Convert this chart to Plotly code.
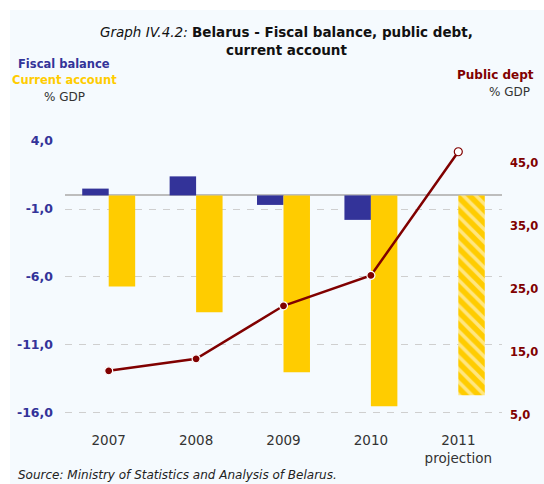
import plotly.graph_objects as go

# --- data (% of GDP) ---
years = ["2007", "2008", "2009", "2010", "2011<br>projection"]
fiscal_balance = [0.5, 1.4, -0.7, -1.8, None]
current_account = [-6.7, -8.6, -13.0, -15.5, -14.7]
public_debt = [12.0, 13.9, 22.3, 27.1, 46.7]

left_ticks = [-16, -11, -6, -1, 4]
right_ticks = [5, 15, 25, 35, 45]

NAVY = "#333399"
YELLOW = "#FFCC00"
MAROON = "#800000"
BG = "#F5FAFE"
FONT = "DejaVu Sans"

W, H = 544, 484
L, R, T, B = 65, 42, 141, 69
PW, PH = W - L - R, H - T - B


def px(x):
    return (x - L) / PW


def py(y):
    return (H - B - y) / PH


def fmt(v):
    return f"{v:.1f}".replace(".", ",")


fig = go.Figure()

fig.add_trace(go.Bar(
    x=years, y=fiscal_balance, name="Fiscal balance",
    marker=dict(color=NAVY, line=dict(width=0)),
))
fig.add_trace(go.Bar(
    x=years, y=current_account, name="Current account",
    marker=dict(
        color=YELLOW, line=dict(width=0),
        pattern=dict(shape=["", "", "", "", "\\"], fgcolor="white",
                     bgcolor=YELLOW, size=9, solidity=0.4),
    ),
))
fig.add_trace(go.Scatter(
    x=years, y=public_debt, name="Public debt", yaxis="y2",
    mode="lines+markers",
    line=dict(color=MAROON, width=2.5),
    marker=dict(size=8, color=[MAROON] * 4 + ["white"],
                line=dict(color=["white"] * 4 + [MAROON], width=1.2)),
))

fig.update_layout(
    width=W, height=H,
    margin=dict(l=L, r=R, t=T, b=B, pad=0, autoexpand=False),
    paper_bgcolor="white",
    plot_bgcolor="rgba(0,0,0,0)",
    showlegend=False,
    barmode="group", bargap=0.394, bargroupgap=0,
    font=dict(family=FONT, size=12, color="#333333"),
    xaxis=dict(
        type="category", showgrid=False, showline=False, zeroline=False,
        ticks="outside", ticklen=0, ticklabelstandoff=13, automargin=False,
        tickfont=dict(size=13.5, color="#333333"),
    ),
    yaxis=dict(
        range=[-16.15, 4.001], tickvals=left_ticks,
        ticktext=[fmt(v) for v in left_ticks],
        tickfont=dict(size=12.5, color=NAVY, weight="bold"),
        showgrid=True, gridcolor="#CFCFCF", gridwidth=1, griddash="7px,7px",
        zeroline=True, zerolinecolor="#BDBDBD", zerolinewidth=1.5,
        showline=False, ticks="", ticklabelstandoff=11, automargin=False,
    ),
    yaxis2=dict(
        overlaying="y", side="right", range=[5, 48.4],
        tickvals=right_ticks, ticktext=[fmt(v) for v in right_ticks],
        tickfont=dict(size=11.5, color=MAROON, weight="bold"),
        showgrid=False, zeroline=False, showline=False, ticks="",
        ticklabelstandoff=7, automargin=False,
    ),
)

# light panel behind everything
fig.add_shape(type="rect", xref="paper", yref="paper", layer="below",
              x0=px(10), x1=px(W + 5), y0=py(H + 5), y1=py(10),
              fillcolor=BG, line=dict(width=0))

ann = [
    dict(text="<i>Graph IV.4.2:</i> <b>Belarus - Fiscal balance, public debt,</b><br><b>current account</b>",
         x=px(286), y=py(41), size=13.5, color="#111111", xanchor="center"),
    dict(text="<b>Fiscal balance</b>", x=px(64), y=py(64), size=11.5, color=NAVY, xanchor="center"),
    dict(text="<b>Current account</b>", x=px(64), y=py(80), size=11.5, color=YELLOW, xanchor="center"),
    dict(text="% GDP", x=px(64), y=py(97), size=12, color="#333333", xanchor="center"),
    dict(text="<b>Public dept</b>", x=px(455), y=py(75), size=12, color=MAROON, xanchor="left"),
    dict(text="% GDP", x=px(509), y=py(92), size=12, color="#333333", xanchor="center"),
    dict(text="<i>Source: Ministry of Statistics and Analysis of Belarus.</i>",
         x=px(16), y=py(475), size=12, color="#222222", xanchor="left"),
]
for a in ann:
    fig.add_annotation(text=a["text"], x=a["x"], y=a["y"], xref="paper", yref="paper",
                       xanchor=a["xanchor"], yanchor="middle", showarrow=False,
                       font=dict(family=FONT, size=a["size"], color=a["color"]))

fig.write_html("out.html")
